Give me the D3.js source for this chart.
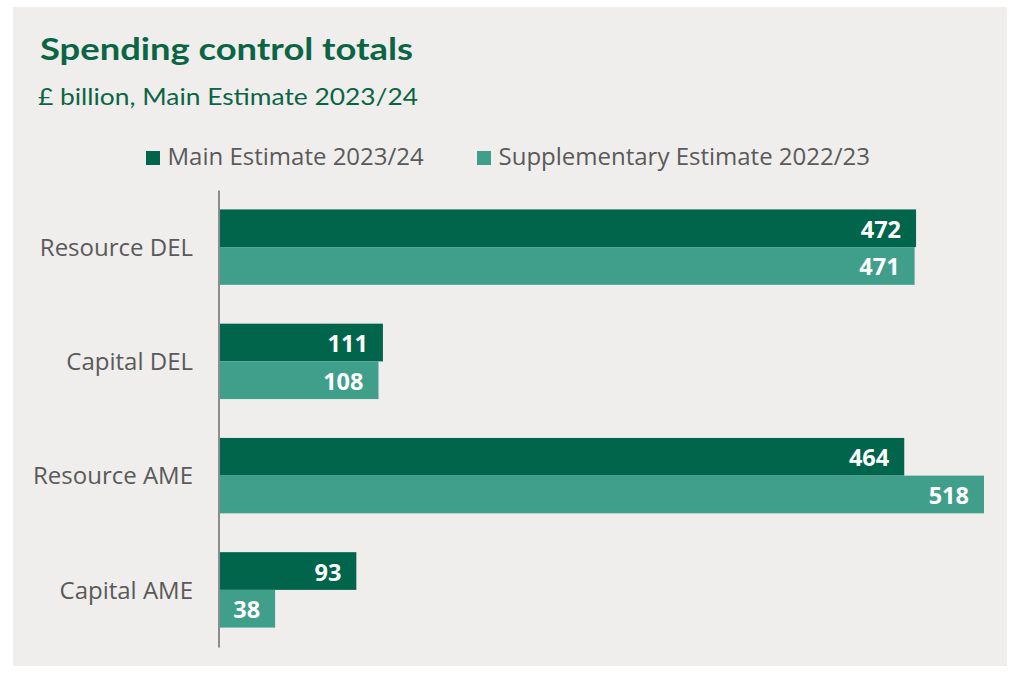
<!DOCTYPE html>
<html>
<head>
<meta charset="utf-8">
<script src="https://cdn.jsdelivr.net/npm/d3@7/dist/d3.min.js"></script>
<style>
  html, body { margin: 0; padding: 0; background: #ffffff; }
  svg { display: block; }
</style>
</head>
<body>
<svg id="chart" width="1013" height="673"></svg>
<script>
const categories = ["Resource DEL", "Capital DEL", "Resource AME", "Capital AME"];
const seriesNames = ["Main Estimate 2023/24", "Supplementary Estimate 2022/23"];
const mainEstimate = [472, 111, 464, 93];
const supplementaryEstimate = [471, 108, 518, 38];
const seriesValues = [mainEstimate, supplementaryEstimate];
const colors = ["#00654a", "#409f8a"];

const svg = d3.select("#chart");

// panel background
svg.append("rect")
  .attr("x", 13).attr("y", 7)
  .attr("width", 994).attr("height", 659)
  .attr("fill", "#efeeec");

// title & subtitle
function fitText(sel, w) {
  sel.attr("textLength", w).attr("lengthAdjust", "spacingAndGlyphs");
}
svg.append("text")
  .attr("x", 40).attr("y", 59.5)
  .attr("font-family", "Lato, 'Open Sans', sans-serif")
  .attr("font-weight", 700)
  .attr("font-size", 30)
  .attr("fill", "#0b6545")
  .text("Spending control totals")
  .call(fitText, 373);

svg.append("text")
  .attr("x", 38).attr("y", 104.5)
  .attr("font-family", "Lato, 'Open Sans', sans-serif")
  .attr("font-size", 23)
  .attr("fill", "#0b6545")
  .text("£ billion, Main Estimate 2023/24")
  .call(fitText, 380);

// legend
const legendX = [146, 477];
const legend = svg.append("g");
seriesNames.forEach((name, i) => {
  legend.append("rect")
    .attr("x", legendX[i]).attr("y", 151)
    .attr("width", 14).attr("height", 14)
    .attr("fill", colors[i]);
  legend.append("text")
    .attr("x", legendX[i] + 21.5).attr("y", 165)
    .attr("font-family", "'Open Sans', sans-serif")
    .attr("font-size", 24)
    .attr("fill", "#5a5a5a")
    .text(name);
});

// scales
const x = d3.scaleLinear().domain([0, 518]).range([219, 984]);
const y = d3.scaleBand().domain(categories).range([190, 647])
  .paddingInner(0.34).paddingOuter(0.17);
const ySub = d3.scaleBand().domain(d3.range(seriesNames.length))
  .range([0, y.bandwidth()]).padding(0);

// bars
const groups = svg.append("g").selectAll("g")
  .data(categories)
  .join("g")
  .attr("transform", c => `translate(0,${y(c)})`);

groups.each(function(c, ci) {
  const g = d3.select(this);
  seriesValues.forEach((vals, si) => {
    const v = vals[ci];
    g.append("rect")
      .attr("x", x(0))
      .attr("y", ySub(si))
      .attr("width", x(v) - x(0))
      .attr("height", ySub.bandwidth())
      .attr("fill", colors[si]);
    g.append("text")
      .attr("x", x(v) - 15)
      .attr("y", ySub(si) + ySub.bandwidth() / 2 + 9.5)
      .attr("text-anchor", "end")
      .attr("font-family", "'Open Sans', sans-serif")
      .attr("font-weight", 700)
      .attr("font-size", 23.5)
      .attr("fill", "#ffffff")
      .text(v);
  });
});

// axis
const axis = svg.append("g")
  .attr("transform", `translate(${x(0) - 0.5},0)`)
  .call(d3.axisLeft(y).tickSize(0).tickPadding(25.5).tickSizeOuter(0));
axis.select(".domain").attr("stroke", "#8c8c8c").attr("stroke-width", 2);
axis.selectAll(".tick text")
  .attr("font-family", "'Open Sans', sans-serif")
  .attr("font-size", 24)
  .attr("fill", "#5a5a5a")
  .attr("dy", "0.36em");
</script>
</body>
</html>
